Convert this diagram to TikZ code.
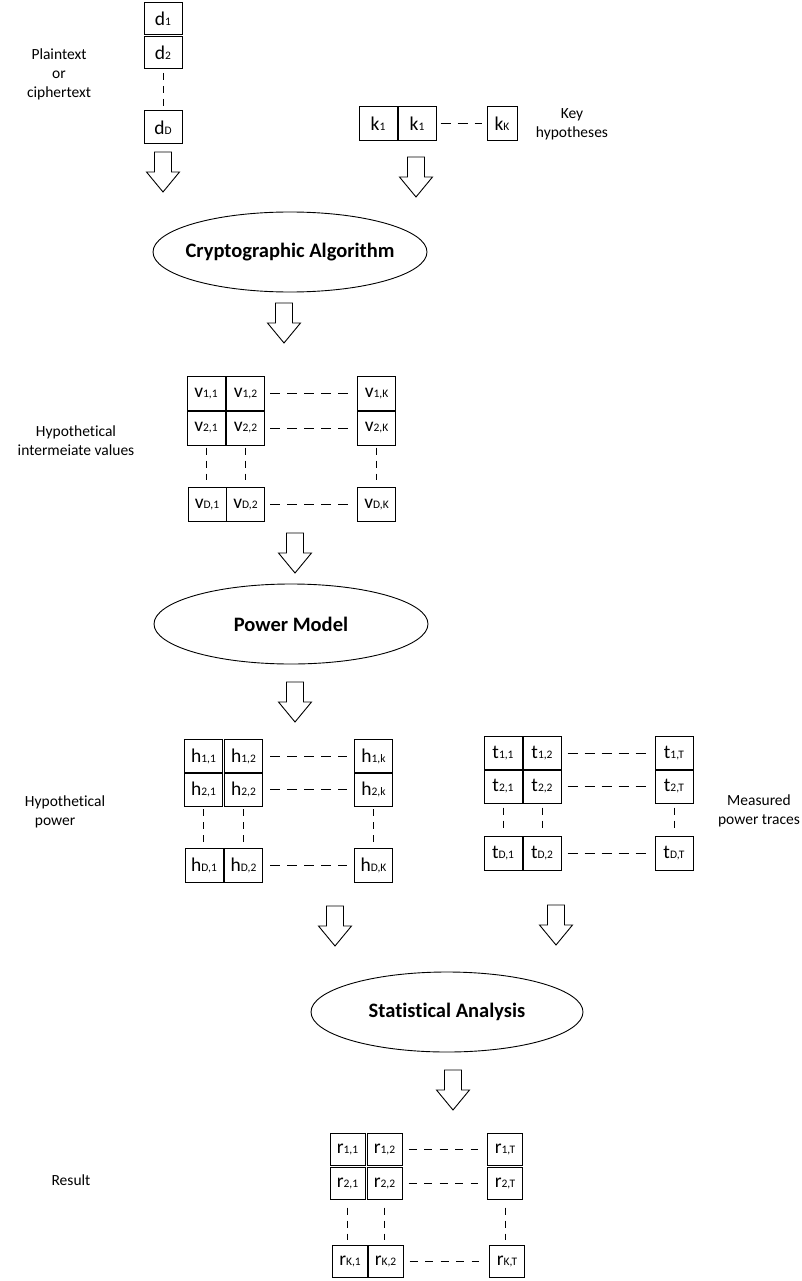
\documentclass[tikz,border=0pt]{standalone}
\usepackage{fontspec}
\setmainfont[Ligatures=NoCommon]{Carlito}
\usetikzlibrary{shapes.geometric}
\newcommand{\ent}[2]{{\fontsize{19.5}{19.5}\selectfont #1}{\fontsize{11.5}{11.5}\selectfont #2}}
\newcommand{\proctext}[1]{\makebox[0pt]{#1}}
\tikzset{
  cell/.style={draw, line width=1pt, minimum width=38pt, minimum height=34pt, inner sep=0pt},
  rcell/.style={cell, minimum width=35pt, minimum height=32pt},
  hdash/.style={line width=1pt, dash pattern=on 10pt off 7pt},
  rdash/.style={line width=1pt, dash pattern=on 8pt off 7.5pt},
  vdash/.style={line width=1pt, dash pattern=on 7pt off 6pt},
  proc/.style={draw, ellipse, line width=0.9pt, minimum width=274pt, minimum height=80pt, inner sep=0pt, font=\fontsize{20.5}{20.5}\selectfont\bfseries},
  lbl/.style={font=\fontsize{15.5}{19}\selectfont, align=center, inner sep=0pt},
  barrowstyle/.style={draw, line width=0.9pt, fill=white},
  blockarrow/.pic={\draw[barrowstyle] (-8.5,0) -- (8.5,0) -- (8.5,20) -- (16.5,20) -- (0,40) -- (-16.5,20) -- (-8.5,20) -- cycle;}
}
\begin{document}
\begin{tikzpicture}[x=1pt,y=-1pt]
\useasboundingbox (0,0) rectangle (802,1281);
\fill[white] (0,0) rectangle (802,1281);

% d column
\node[cell, minimum height=32pt] (d1) at (163,19) {\ent{d}{1}};
\node[cell, minimum height=32pt] (d2) at (163,52.5) {\ent{d}{2}};
\node[cell, minimum height=33pt] (dD) at (163,127.5) {\ent{d}{D}};
\draw[vdash, shorten <=4pt, shorten >=3pt] (d2.south) -- (dD.north);
\node[lbl] (lplain) at (59,74) {Plaintext\\or\\ciphertext};

% k row
\node[cell] (k1) at (378,124) {\ent{k}{1}};
\node[cell] (k2) at (417,124) {\ent{k}{1}};
\node[cell, minimum width=30pt] (kK) at (502,124) {\ent{k}{K}};
\draw[hdash, shorten <=4pt, shorten >=5pt] (k2.east) -- (kK.west);
\node[lbl] (lkey) at (572,124) {Key\\hypotheses};

\pic at (163,152) {blockarrow};
\pic at (416,157) {blockarrow};

\node[proc] (crypto) at (290,252) {\proctext{Cryptographic Algorithm}};
\pic at (284,303) {blockarrow};

% v matrix
\node[cell] (v11) at (206,393.5) {\ent{v}{1,1}};
\node[cell] (v12) at (245.5,393.5) {\ent{v}{1,2}};
\node[cell] (v1K) at (376.5,393.5) {\ent{v}{1,K}};
\node[cell] (v21) at (206,428) {\ent{v}{2,1}};
\node[cell] (v22) at (245.5,428) {\ent{v}{2,2}};
\node[cell] (v2K) at (376.5,428) {\ent{v}{2,K}};
\node[cell] (vD1) at (207,504.5) {\ent{v}{D,1}};
\node[cell] (vD2) at (245.5,504.5) {\ent{v}{D,2}};
\node[cell] (vDK) at (376.5,504.5) {\ent{v}{D,K}};
\draw[hdash, shorten <=5pt, shorten >=9pt] (v12.east) -- (v1K.west);
\draw[hdash, shorten <=5pt, shorten >=9pt] (v22.east) -- (v2K.west);
\draw[hdash, shorten <=5pt, shorten >=9pt] (vD2.east) -- (vDK.west);
\draw[vdash, shorten <=2pt, shorten >=7pt] (v21.south) -- (v21.south |- vD1.north);
\draw[vdash, shorten <=2pt, shorten >=7pt] (v22.south) -- (vD2.north);
\draw[vdash, shorten <=2pt, shorten >=7pt] (v2K.south) -- (vDK.north);
\node[lbl] (lhyp) at (76,441) {Hypothetical\\intermeiate values};

\pic at (295,533) {blockarrow};
\node[proc] (power) at (291,624) {\proctext{Power Model}};
\pic at (295,682) {blockarrow};

% h matrix
\node[cell] (h11) at (203.5,756) {\ent{h}{1,1}};
\node[cell] (h12) at (243.5,756) {\ent{h}{1,2}};
\node[cell] (h1K) at (373.5,756) {\ent{h}{1,k}};
\node[cell] (h21) at (203.5,789.5) {\ent{h}{2,1}};
\node[cell] (h22) at (243.5,789.5) {\ent{h}{2,2}};
\node[cell] (h2K) at (373.5,789.5) {\ent{h}{2,k}};
\node[cell] (hD1) at (204,865.5) {\ent{h}{D,1}};
\node[cell] (hD2) at (243.5,865.5) {\ent{h}{D,2}};
\node[cell] (hDK) at (373.5,865.5) {\ent{h}{D,K}};
\draw[hdash, shorten <=7pt, shorten >=7pt] (h12.east) -- (h1K.west);
\draw[hdash, shorten <=7pt, shorten >=7pt] (h22.east) -- (h2K.west);
\draw[hdash, shorten <=7pt, shorten >=7pt] (hD2.east) -- (hDK.west);
\draw[vdash, shorten <=2pt, shorten >=2pt] (h21.south) -- (h21.south |- hD1.north);
\draw[vdash, shorten <=2pt, shorten >=2pt] (h22.south) -- (hD2.north);
\draw[vdash, shorten <=2pt, shorten >=2pt] (h2K.south) -- (hDK.north);
\node[lbl, align=left] (lhpow) at (65,812) {Hypothetical\\\hspace*{10pt}power};

% t matrix
\node[cell] (t11) at (503,753) {\ent{t}{1,1}};
\node[cell] (t12) at (542,753) {\ent{t}{1,2}};
\node[cell] (t1T) at (674,753) {\ent{t}{1,T}};
\node[cell] (t21) at (503,786) {\ent{t}{2,1}};
\node[cell] (t22) at (542,786) {\ent{t}{2,2}};
\node[cell] (t2T) at (674,786) {\ent{t}{2,T}};
\node[cell] (tD1) at (503,853) {\ent{t}{D,1}};
\node[cell] (tD2) at (542,853) {\ent{t}{D,2}};
\node[cell] (tDT) at (674,853) {\ent{t}{D,T}};
\draw[hdash, shorten <=6pt, shorten >=8pt] (t12.east) -- (t1T.west);
\draw[hdash, shorten <=6pt, shorten >=8pt] (t22.east) -- (t2T.west);
\draw[hdash, shorten <=6pt, shorten >=8pt] (tD2.east) -- (tDT.west);
\draw[vdash, shorten <=4pt, shorten >=3pt] (t21.south) -- (tD1.north);
\draw[vdash, shorten <=4pt, shorten >=3pt] (t22.south) -- (tD2.north);
\draw[vdash, shorten <=4pt, shorten >=3pt] (t2T.south) -- (tDT.north);
\node[lbl] (lmeas) at (759,811) {Measured\\power traces};

\pic at (335,906) {blockarrow};
\pic at (556,905) {blockarrow};
\node[proc, minimum width=272pt] (stats) at (447,1012) {\proctext{Statistical Analysis}};
\pic at (453,1070) {blockarrow};

% r matrix
\node[rcell] (r11) at (347.5,1149) {\ent{r}{1,1}};
\node[rcell] (r12) at (384.5,1149) {\ent{r}{1,2}};
\node[rcell] (r1T) at (505,1149) {\ent{r}{1,T}};
\node[rcell] (r21) at (347.5,1183) {\ent{r}{2,1}};
\node[rcell] (r22) at (384.5,1183) {\ent{r}{2,2}};
\node[rcell] (r2T) at (505,1183) {\ent{r}{2,T}};
\node[rcell] (rK1) at (350,1261) {\ent{r}{K,1}};
\node[rcell] (rK2) at (385.5,1261) {\ent{r}{K,2}};
\node[rcell] (rKT) at (507,1261) {\ent{r}{K,T}};
\draw[rdash, shorten <=6pt, shorten >=9.5pt] (r12.east) -- (r1T.west);
\draw[rdash, shorten <=6pt, shorten >=9.5pt] (r22.east) -- (r2T.west);
\draw[rdash, shorten <=6pt, shorten >=10.5pt] (rK2.east) -- (rKT.west);
\draw[vdash, shorten <=8pt, shorten >=5pt] (r21.south) -- (r21.south |- rK1.north);
\draw[vdash, shorten <=8pt, shorten >=5pt] (r22.south) -- (r22.south |- rK2.north);
\draw[vdash, shorten <=8pt, shorten >=5pt] (r2T.south) -- (r2T.south |- rKT.north);
\node[lbl] (lres) at (71,1180) {Result};
\end{tikzpicture}
\end{document}
